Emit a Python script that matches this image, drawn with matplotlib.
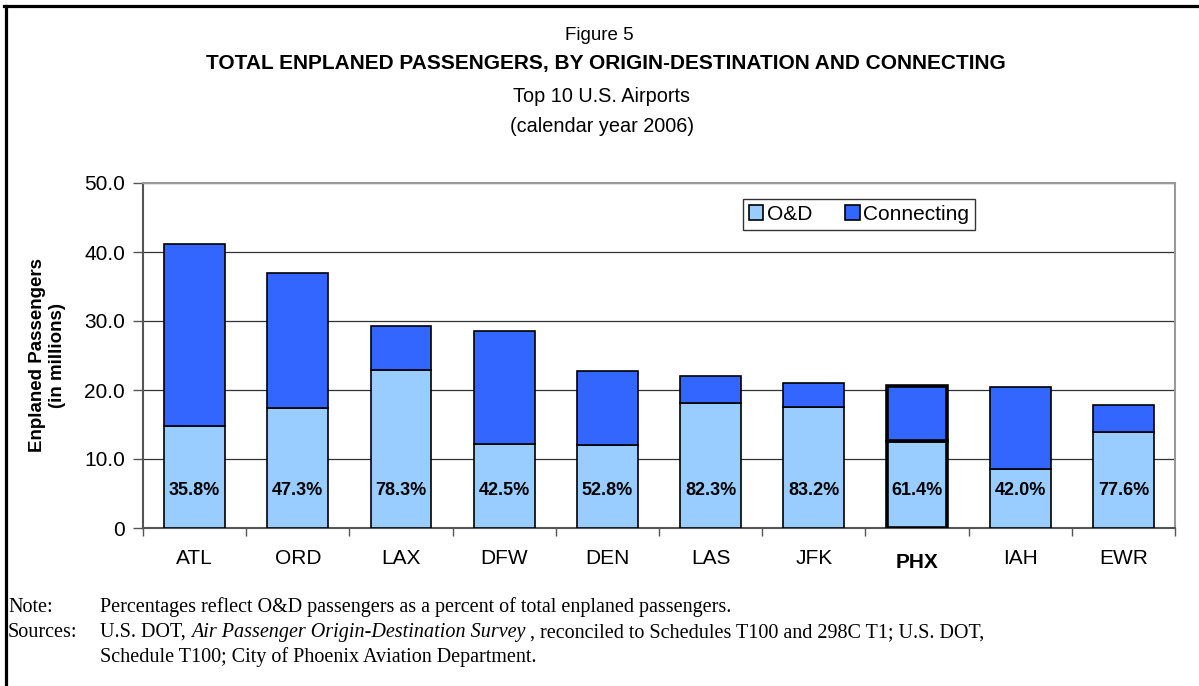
import numpy as np
import matplotlib
matplotlib.use("Agg")
import matplotlib.pyplot as plt
from matplotlib.lines import Line2D
from matplotlib.patches import Patch

plt.rcParams['font.family'] = ['Liberation Sans', 'DejaVu Sans']

# top 10 airports, calendar year 2006 (millions of enplaned passengers)
airports = ["ATL", "ORD", "LAX", "DFW", "DEN", "LAS", "JFK", "PHX", "IAH", "EWR"]
total_pax = [41.2, 36.9, 29.3, 28.6, 22.8, 22.0, 21.0, 20.6, 20.5, 17.85]
od_share = [35.8, 47.3, 78.3, 42.5, 52.8, 82.3, 83.2, 61.4, 42.0, 77.6]
y_ticks = [0, 10, 20, 30, 40, 50]
y_tick_labels = ["0", "10.0", "20.0", "30.0", "40.0", "50.0"]
highlight = "PHX"

od = np.array(total_pax) * np.array(od_share) / 100.0
connecting = np.array(total_pax) - od

c_od = "#99CCFF"
c_conn = "#3366FF"

fig = plt.figure(figsize=(11.99, 6.86), dpi=100)
ax = fig.add_axes([143 / 1199, 1 - 528 / 686, (1175 - 143) / 1199, (528 - 183) / 686])

x = np.arange(len(airports))
lw = [2.6 if a == highlight else 1.2 for a in airports]
ax.bar(x, od, width=0.59, color=c_od, edgecolor="black", linewidth=lw, zorder=3)
ax.bar(x, connecting, width=0.59, bottom=od, color=c_conn, edgecolor="black", linewidth=lw, zorder=3)

for i, p in enumerate(od_share):
    ax.text(x[i], 5.5, f"{p:.1f}%", ha="center", va="center",
            fontsize=13, fontweight="bold", zorder=4)

ax.set_xlim(-0.5, len(airports) - 0.5)
ax.set_ylim(0, 50)
ax.set_yticks(y_ticks)
ax.set_yticklabels(y_tick_labels, fontsize=15)
ax.yaxis.grid(True, color="#333333", linewidth=0.9, zorder=0)
ax.set_axisbelow(True)

ax.set_xticks(x)
ax.set_xticklabels(airports, fontsize=15)
for lbl in ax.get_xticklabels():
    if lbl.get_text() == highlight:
        lbl.set_fontweight("bold")
        lbl.set_y(-0.012)
ax.set_xticks(np.arange(-0.5, len(airports)), minor=True)
ax.tick_params(axis="x", which="major", length=0, pad=15)
ax.tick_params(axis="x", which="minor", length=6, width=1, color="#555555", direction="out")
ax.tick_params(axis="y", length=7, width=1, color="#555555", pad=6)

for s in ["left", "bottom"]:
    ax.spines[s].set_color("#555555")
    ax.spines[s].set_linewidth(1.5)
for s in ["top", "right"]:
    ax.spines[s].set_color("#999999")
    ax.spines[s].set_linewidth(1.5)

ax.set_ylabel("Enplaned Passengers\n(in millions)", fontsize=13.5, fontweight="bold", labelpad=13)

handles = [Patch(facecolor=c_od, edgecolor="black", linewidth=1.2, label="O&D"),
           Patch(facecolor=c_conn, edgecolor="black", linewidth=1.2, label="Connecting")]
leg = ax.legend(handles=handles, loc="upper left", bbox_to_anchor=(0.581, 0.955), ncol=2,
                fontsize=15, frameon=True, fancybox=False, handlelength=0.7, handleheight=0.7,
                handletextpad=0.15, columnspacing=1.6, borderpad=0.3, borderaxespad=0)
leg.get_frame().set_edgecolor("black")
leg.get_frame().set_linewidth(1.0)

# titles
fig.text(0.5, 1 - 35 / 686, "Figure 5", ha="center", va="center", fontsize=13.5)
fig.text(0.505, 1 - 64 / 686, "TOTAL ENPLANED PASSENGERS, BY ORIGIN-DESTINATION AND CONNECTING",
         ha="center", va="center", fontsize=15, fontweight="bold")
fig.text(0.502, 1 - 97 / 686, "Top 10 U.S. Airports", ha="center", va="center", fontsize=14.3)
fig.text(0.502, 1 - 126 / 686, "(calendar year 2006)", ha="center", va="center", fontsize=14.3)

# footnotes
serif = ['Liberation Serif', 'DejaVu Serif']
fs = 14.5
fig.text(8 / 1199, 1 - 612 / 686, "Note:", ha="left", va="baseline", fontsize=fs, family=serif)
fig.text(100 / 1199, 1 - 612 / 686,
         "Percentages reflect O&D passengers as a percent of total enplaned passengers.",
         ha="left", va="baseline", fontsize=fs, family=serif)
fig.text(8 / 1199, 1 - 637 / 686, "Sources:", ha="left", va="baseline", fontsize=fs, family=serif)
t1 = fig.text(100 / 1199, 1 - 637 / 686, "U.S. DOT, ", ha="left", va="baseline", fontsize=fs, family=serif)
t2 = fig.text(0, 0, "Air Passenger Origin-Destination Survey", ha="left", va="baseline",
              fontsize=fs, family=serif, style="italic")
t3 = fig.text(0, 0, " , reconciled to Schedules T100 and 298C T1; U.S. DOT,", ha="left", va="baseline",
              fontsize=fs, family=serif)
fig.text(100 / 1199, 1 - 662 / 686, "Schedule T100; City of Phoenix Aviation Department.",
         ha="left", va="baseline", fontsize=fs, family=serif)

# chain the sources pieces along one baseline
fig.canvas.draw()
r = fig.canvas.get_renderer()
x1 = t1.get_window_extent(r).x1 / fig.bbox.width
t2.set_position((x1, 1 - 637 / 686))
x2 = t2.get_window_extent(r).x1 / fig.bbox.width
t3.set_position((x2, 1 - 637 / 686))

# page frame on the left and top
fig.add_artist(Line2D([5.5 / 1199, 5.5 / 1199], [0, 1 - 5.5 / 686], color="black", linewidth=2.3))
fig.add_artist(Line2D([4 / 1199, 1], [1 - 5.5 / 686, 1 - 5.5 / 686], color="black", linewidth=2.3))

fig.savefig("out.png", dpi=100)
